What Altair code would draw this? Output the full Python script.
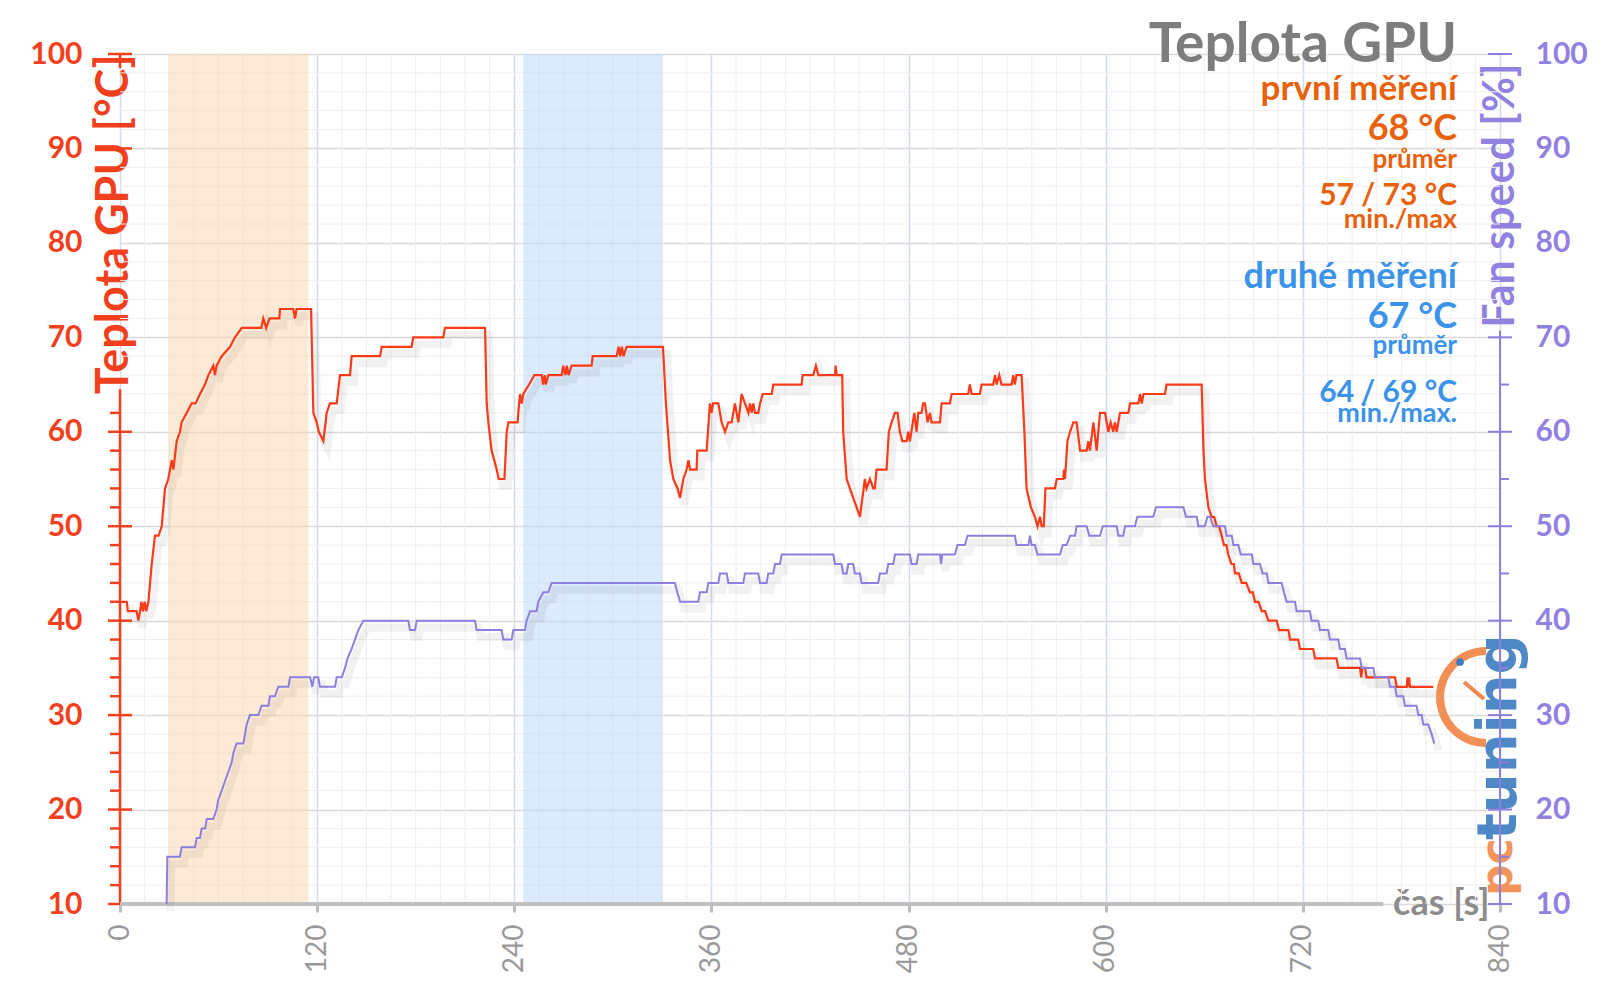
import math
import altair as alt
import pandas as pd

# ---------------- data: (time s, value) ----------------
temp_pts = [(0, 42), (4.1, 42), (4.8, 41), (10.1, 41), (11.2, 40), (12.2, 41), (13, 42), (14, 41), (15, 42),
            (16, 41), (17.3, 42), (19.3, 46), (21.3, 49), (23.5, 49), (25.4, 50), (27.4, 54), (29.4, 55),
            (31.5, 57), (32.5, 56), (34.5, 59), (36.5, 60), (37.5, 61), (40.6, 62), (43.6, 63), (46, 63),
            (48.7, 64), (51.7, 65), (53.8, 66), (56.8, 67), (57.8, 66), (58.8, 67), (61.9, 68), (67, 69),
            (70, 70), (74.1, 71), (86, 71), (87.2, 72), (89, 71), (91, 72), (97, 72), (97.4, 73), (105.5, 73),
            (106.5, 72), (107.5, 73), (116.3, 73), (117.7, 62), (119.7, 61), (121, 60), (123.8, 59),
            (125.8, 62), (127.8, 63), (131.9, 63), (133.9, 66), (140, 66), (141, 68), (158.3, 68),
            (159.3, 69), (177.5, 69), (178.5, 70), (196.8, 70), (197.8, 71), (222.2, 71), (223.2, 63),
            (224.2, 61), (226.2, 58), (227.8, 57), (229.3, 56), (230.5, 55), (234, 55), (235.4, 60),
            (236.4, 61), (242, 61), (242.9, 63), (243.5, 64), (244.5, 63), (245.5, 64), (249, 65),
            (252.2, 66), (256.7, 66), (257.5, 65), (258.5, 66), (259.2, 65), (260.7, 66), (268.8, 66),
            (269.8, 67), (271, 66), (272, 67), (273, 66), (274.9, 67), (287.1, 67), (287.7, 68), (302.3, 68),
            (303.5, 69), (304.5, 68), (305.5, 69), (306.5, 68), (308.4, 69), (330.5, 69), (332.3, 63),
            (334.8, 57), (336.8, 55), (339.4, 54), (340.9, 53), (342.9, 55), (344.9, 56), (346, 57),
            (347, 56), (351, 56), (351.4, 58), (357.1, 58), (359.1, 63), (360.1, 62), (361, 63), (364.2, 63),
            (366.2, 61), (368.3, 60), (370.3, 61), (372.3, 61), (374.3, 63), (376.4, 61), (378.4, 64),
            (380.4, 63), (382.5, 62), (383.5, 63), (384.5, 62), (385.5, 63), (386.5, 62), (388.5, 62),
            (389.6, 63), (391.2, 64), (396.7, 64), (397.7, 65), (414.9, 65), (415.5, 66), (422, 66),
            (423.6, 67), (425.1, 66), (435.2, 66), (435.6, 67), (436.2, 66), (439.6, 66), (440.2, 60),
            (442.3, 55), (444.3, 54), (446.3, 53), (448.4, 52), (450.4, 51), (453.4, 55), (454.4, 54),
            (456.5, 55), (458.5, 54), (459.5, 54), (460.5, 56), (466.6, 56), (468, 60), (469.7, 61),
            (471.7, 62), (473.3, 62), (474.7, 60), (476.2, 59), (478.8, 59), (479.8, 60), (480.8, 59),
            (483.5, 62), (484.9, 60), (485.9, 62), (487.9, 62), (488.9, 63), (490, 63), (491.6, 61),
            (493, 62), (494, 61), (499.1, 61), (500.1, 63), (505.2, 63), (506.2, 64), (516.3, 64),
            (517.3, 65), (518.4, 64), (523.4, 64), (524.4, 65), (531.5, 65), (532.6, 66), (533.6, 65),
            (535.2, 66), (536.6, 65), (542.7, 65), (543.7, 66), (544.7, 65), (545.7, 66), (548.8, 66),
            (550.5, 60), (551.8, 54), (554.5, 52), (556.9, 51), (558.5, 50), (560, 51), (561, 50),
            (562.3, 50), (563.3, 54), (569.1, 54), (570.2, 55), (574.2, 55), (574.6, 56), (575.2, 55),
            (576.7, 59), (578.3, 60), (580.3, 61), (582.3, 61), (584.4, 58), (588.4, 58), (589.4, 59),
            (590.4, 58), (592.5, 61), (594.5, 58), (596.5, 62), (599.6, 62), (601.6, 60), (603, 61),
            (604.6, 60), (605.6, 61), (606.7, 60), (608.7, 62), (613.8, 62), (614.8, 63), (619.9, 63),
            (620.9, 64), (622, 63), (623, 64), (636.1, 64), (637, 65), (658.4, 65), (659.5, 58),
            (660.4, 55), (662.5, 52), (664.5, 51), (666, 51), (667.5, 50), (669, 50), (670.6, 49),
            (672, 48), (673.5, 48), (674.6, 47), (676.5, 46), (678, 46), (678.7, 45), (681, 45), (682.8, 44),
            (685.5, 44), (687.8, 43), (689.5, 43), (690.9, 42), (693, 42), (695, 41), (697, 41), (699, 40),
            (704.1, 40), (705.5, 39), (711.2, 39), (712.2, 38), (717.2, 38), (718.2, 37), (726.3, 37),
            (727.4, 36), (740.5, 36), (741.6, 35), (754.8, 35), (755.5, 34), (756.2, 35), (757.8, 35),
            (758.8, 34), (776.1, 34), (777.1, 33), (783.2, 33), (783.7, 34), (784.2, 33), (784.7, 34),
            (785.2, 33), (799.4, 33)]

fan_pts = [(28.4, 10), (28.8, 15), (36.5, 15), (37.5, 16), (45.7, 16), (46.7, 17), (48.7, 17), (49.7, 18),
           (51.8, 18), (52.8, 19), (56.8, 19), (58.8, 20), (59.8, 21), (61.9, 22), (63.9, 23), (66, 24),
           (68, 25), (69, 26), (71, 27), (75.1, 27), (76.1, 28), (77.1, 29), (79.1, 30), (84.2, 30),
           (86.2, 31), (90.3, 31), (91.3, 32), (94.3, 32), (96.4, 33), (102.5, 33), (103.5, 34),
           (115.7, 34), (117.1, 33), (118.1, 34), (120.7, 34), (121.7, 33), (130.9, 33), (131.9, 34),
           (135, 34), (137, 35), (138.5, 36), (141, 37), (143, 38), (145.1, 39), (148.1, 40), (175.5, 40),
           (176.5, 39), (179.6, 39), (180.6, 40), (216.1, 40), (217.1, 39), (232.3, 39), (233.3, 38),
           (238.4, 38), (239.4, 39), (246.5, 39), (247.5, 40), (249.6, 41), (253.6, 41), (254.6, 42),
           (257.7, 43), (260.7, 43), (262.7, 44), (337.8, 44), (339.2, 43), (341, 42), (352, 42), (353, 43),
           (357.1, 43), (358.1, 44), (364.2, 44), (365.2, 45), (369.3, 45), (370.3, 44), (379.4, 44),
           (380.4, 45), (388.5, 45), (389.6, 44), (393.6, 44), (394.6, 45), (397.7, 45), (398.7, 46),
           (401.7, 46), (402.8, 47), (434.2, 47), (435.2, 46), (439.2, 46), (440.2, 45), (442.3, 45),
           (443.3, 46), (446.3, 46), (447.3, 45), (450.4, 45), (451.4, 44), (461.5, 44), (462.6, 45),
           (466.6, 45), (467.6, 46), (470.7, 46), (471.7, 47), (480.8, 47), (481.8, 46), (484.9, 46),
           (485.9, 47), (499.1, 47), (499.8, 46), (500.5, 47), (508.2, 47), (509.8, 48), (514.3, 48),
           (515.9, 49), (544.7, 49), (545.7, 48), (552.9, 48), (553.9, 49), (554.9, 48), (556.9, 48),
           (558.5, 47), (572.2, 47), (573.8, 48), (576.2, 48), (578.3, 49), (581.3, 49), (582.3, 50),
           (588.4, 50), (590, 49), (596.5, 49), (598.2, 50), (606.7, 50), (607.7, 49), (610.7, 49),
           (611.8, 50), (617.8, 50), (619.3, 51), (629, 51), (630.6, 52), (647.3, 52), (648.9, 51),
           (655.4, 51), (656.4, 50), (660.4, 50), (661.9, 51), (663.5, 51), (665.5, 50), (672.6, 50),
           (673.6, 49), (676.7, 49), (677.7, 48), (680.7, 48), (682.2, 47), (688.9, 47), (689.9, 46),
           (693.9, 46), (695.5, 45), (698, 45), (699, 44), (707.1, 44), (708.5, 43), (710.1, 42),
           (715.2, 42), (716.2, 41), (724.3, 41), (725.3, 40), (729.4, 40), (730.4, 39), (735.5, 39),
           (736.5, 38), (741.6, 38), (742.6, 37), (745.6, 37), (746.6, 36), (754.8, 36), (755.8, 35),
           (762.9, 35), (763.9, 34), (772, 34), (773, 33), (776.1, 33), (777.1, 32), (781.1, 32),
           (782.1, 31), (789.2, 31), (790.3, 30), (792.3, 30), (793.3, 29), (796.3, 29), (798.4, 28),
           (800, 27)]

load_start = [29.4, 245.5]
load_end = [114.6, 330.3]
load_color = ["#fbd5ad", "#b7d5f9"]

x_major = list(range(0, 841, 120))
x_minor = [t for t in range(0, 841, 15) if t % 120]
y_major = list(range(10, 101, 10))
y_minor = [v for v in range(10, 101, 2) if v % 10]
left_minor_ticks = [v for v in y_minor if v < 64]
left_major_ticks = [10, 20, 30, 40, 50, 60, 90, 100]
right_minor_ticks = [15, 25, 35, 45, 55, 65]
right_major_ticks = [10, 20, 30, 40, 50, 60, 70, 100]

# ---------------- styling ----------------
W, H = 1380, 850
RED = "#f2401e"
LINE_RED = "#fb3a18"
PURPLE = "#8c7fde"
PURPLE_TXT = "#9181e0"
ORANGE_TXT = "#e8620d"
BLUE_TXT = "#3b93ea"
GRAY = "#7d7d7d"
FONT = "Lato"

temp_df = pd.DataFrame(temp_pts, columns=["t", "v"])
fan_df = pd.DataFrame(fan_pts, columns=["t", "v"])
load_df = pd.DataFrame({"t": load_start, "e": load_end, "c": load_color})
one = pd.DataFrame({"d": [0]})

xs = alt.Scale(domain=[0, 840], nice=False, zero=False)
ys = alt.Scale(domain=[10, 100], nice=False, zero=False)

x_axis = alt.Axis(values=x_major, labelAngle=-90, labelFont=FONT, labelFontSize=28,
                  labelColor="#9a9a9a", labelPadding=12, tickColor="#bdbdbd", tickWidth=3,
                  tickSize=8, domain=False, grid=True, gridColor="#d2dce8", gridWidth=1.5,
                  title="čas [s]", titleFont=FONT, titleFontSize=36, titleFontWeight="bold",
                  titleColor="#8c8c8c", titleX=1369, titleY=10, titleAlign="right",
                  titleBaseline="alphabetic")
y_left_axis = alt.Axis(values=y_major, orient="left", domain=False, ticks=False, labelFont=FONT,
                       labelFontSize=30, labelFontWeight="bold", labelColor=RED, labelPadding=38,
                       grid=True, gridColor="#dadada", gridWidth=1.5, title="Teplota GPU [°C]",
                       titleFont=FONT, titleFontSize=45, titleFontWeight="bold", titleColor=RED,
                       titleAngle=270, titleX=-7, titleY=0, titleAlign="right",
                       titleBaseline="middle")
y_right_axis = alt.Axis(values=y_major, orient="right", domain=False, ticks=False, grid=False,
                        labelFont=FONT, labelFontSize=30, labelFontWeight="bold",
                        labelColor=PURPLE_TXT, labelPadding=35, title="Fan speed [%]",
                        titleFont=FONT, titleFontSize=43, titleFontWeight="bold",
                        titleColor=PURPLE_TXT, titleAngle=270, titleX=0, titleY=9,
                        titleAlign="right", titleBaseline="middle")


def X(field):
    return alt.X(field, type="quantitative", scale=xs, axis=x_axis)


def YL(field):
    return alt.Y(field, type="quantitative", scale=ys, axis=y_left_axis)


def YR(field):
    return alt.Y(field, type="quantitative", scale=ys, axis=y_right_axis)


# minor grid
vgrid = alt.Chart(pd.DataFrame({"t": x_minor})).mark_rule(color="#eeeeee", strokeWidth=1).encode(
    x=X("t"))
hgrid = alt.Chart(pd.DataFrame({"v": y_minor})).mark_rule(color="#eeeeee", strokeWidth=1).encode(
    y=YL("v"))

loads = alt.Chart(load_df).mark_rect(opacity=0.5).encode(
    x=X("t"), x2="e:Q", color=alt.Color("c:N", scale=None))

temp_shadow = alt.Chart(temp_df).mark_line(color="#000000", opacity=0.05, strokeWidth=8,
                                           xOffset=4, yOffset=7).encode(x=X("t"), y=YL("v"))
temp_line = alt.Chart(temp_df).mark_line(color=LINE_RED, strokeWidth=2.2).encode(x=X("t"), y=YL("v"))

left_domain = alt.Chart(pd.DataFrame({"v": [10, 98.5], "b": [64.5, 100]})).mark_rule(
    color=RED, strokeWidth=2.5).encode(x=alt.value(0), y=YL("v"), y2="b:Q")
left_major = alt.Chart(pd.DataFrame({"v": left_major_ticks})).mark_rule(color=RED, strokeWidth=2.5).encode(
    y=YL("v"), x=alt.value(-12), x2=alt.value(12))
left_minor = alt.Chart(pd.DataFrame({"v": left_minor_ticks})).mark_rule(color=RED, strokeWidth=2.5).encode(
    y=YL("v"), x=alt.value(-10), x2=alt.value(0))

x_domain = alt.Chart(pd.DataFrame({"t": [0], "e": [769]})).mark_rule(
    color="#c0c0c0", strokeWidth=4).encode(x=X("t"), x2="e:Q", y=alt.value(H))


def note(txt, y, size, color):
    return alt.Chart(one).mark_text(text=txt, align="right", baseline="alphabetic", font=FONT,
                                    fontSize=size, fontWeight="bold", color=color).encode(
        x=alt.value(1337), y=alt.value(y))


notes = [
    note("Teplota GPU", 8, 55, GRAY),
    note("první měření", 46, 35, ORANGE_TXT),
    note("68 °C", 86, 36, ORANGE_TXT),
    note("průměr", 114, 26, ORANGE_TXT),
    note("57 / 73 °C", 151, 30, ORANGE_TXT),
    note("min./max", 174, 27, ORANGE_TXT),
    note("druhé měření", 234, 36, BLUE_TXT),
    note("67 °C", 274, 36, BLUE_TXT),
    note("průměr", 300, 26, BLUE_TXT),
    note("64 / 69 °C", 348, 30, BLUE_TXT),
    note("min./max.", 368, 27, BLUE_TXT),
]

# logo watermark
logo_arc = alt.Chart(one).mark_arc(theta=math.pi, theta2=2 * math.pi, radius=50, radius2=42,
                                   color="#f0894c", opacity=0.95).encode(
    x=alt.value(1366), y=alt.value(643))
logo_needle = alt.Chart(one).mark_rule(color="#f0894c", strokeWidth=4).encode(
    x=alt.value(1344), y=alt.value(628), x2=alt.value(1364), y2=alt.value(645))
logo_dot = alt.Chart(one).mark_circle(color="#3d7cc0", size=60, opacity=1).encode(
    x=alt.value(1340), y=alt.value(608))
logo_pc = alt.Chart(one).mark_text(text="pc", angle=270, align="left", baseline="middle",
                                   font="DejaVu Sans", fontWeight="bold", fontSize=44,
                                   color="#f08a4b", opacity=0.9).encode(x=alt.value(1379), y=alt.value(842))
logo_tuning = alt.Chart(one).mark_text(text="tuning", angle=270, align="left", baseline="middle",
                                       font="DejaVu Sans", fontWeight="bold", fontSize=56,
                                       color="#3d7cc0", opacity=0.9).encode(x=alt.value(1379), y=alt.value(786))

left_group = alt.layer(vgrid, hgrid, loads, temp_shadow, temp_line, left_domain, left_major,
                       left_minor, x_domain, *notes, logo_arc, logo_needle, logo_dot, logo_pc,
                       logo_tuning)

fan_shadow = alt.Chart(fan_df).mark_line(color="#000000", opacity=0.05, strokeWidth=8,
                                         xOffset=4, yOffset=7).encode(x=X("t"), y=YR("v"))
fan_line = alt.Chart(fan_df).mark_line(color=PURPLE, strokeWidth=2).encode(x=X("t"), y=YR("v"))
right_domain = alt.Chart(pd.DataFrame({"v": [10], "b": [70.7]})).mark_rule(
    color=PURPLE, strokeWidth=2).encode(x=alt.value(W), y=YR("v"), y2="b:Q")
right_major = alt.Chart(pd.DataFrame({"v": right_major_ticks})).mark_rule(color=PURPLE, strokeWidth=2).encode(
    y=YR("v"), x=alt.value(W - 12), x2=alt.value(W + 12))
right_minor = alt.Chart(pd.DataFrame({"v": right_minor_ticks})).mark_rule(color=PURPLE, strokeWidth=2).encode(
    y=YR("v"), x=alt.value(W), x2=alt.value(W + 9))

fan_group = alt.layer(fan_shadow, fan_line, right_domain, right_major, right_minor)

chart = alt.layer(left_group, fan_group).resolve_scale(y="independent").properties(
    width=W, height=H,
    padding={"left": 120, "top": 54, "right": 100, "bottom": 94},
    autosize=alt.AutoSizeParams(type="none"),
    background="white",
).configure_view(stroke=None)

chart.save("out.html", embed_options={"renderer": "svg", "actions": False})
